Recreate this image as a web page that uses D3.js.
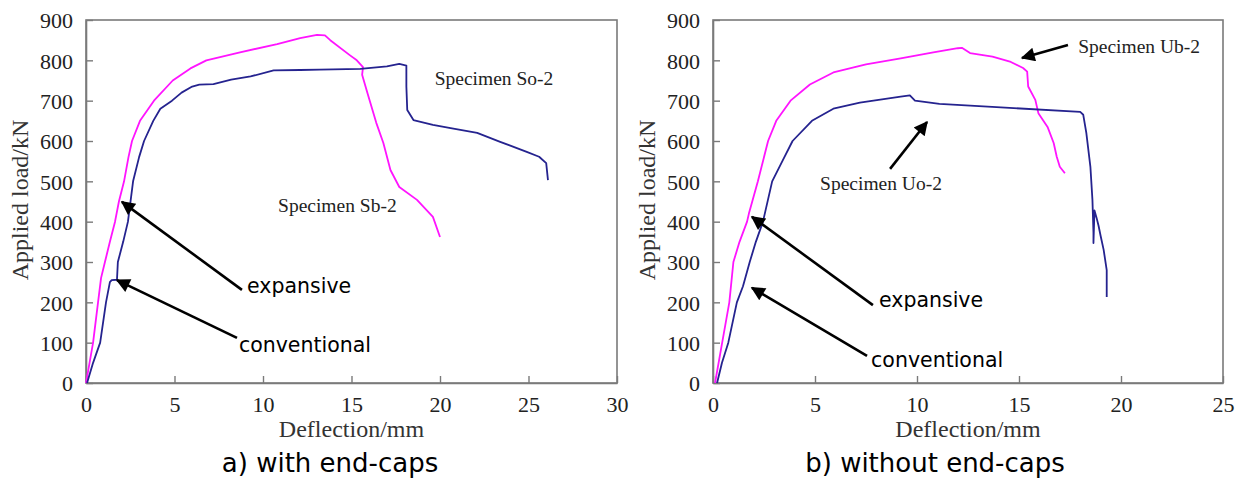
<!DOCTYPE html>
<html>
<head>
<meta charset="utf-8">
<script src="https://cdn.jsdelivr.net/npm/d3@7"></script>
<style>
  body { margin: 0; background: #fff; }
  .tick text { font-family: "Liberation Serif", serif; font-size: 22px; fill: #222; }
  .axis-title { font-family: "Liberation Serif", serif; font-size: 24px; fill: #333; }
  .spec { font-family: "Liberation Serif", serif; font-size: 19.5px; fill: #222; }
  .note { font-family: "DejaVu Sans", sans-serif; font-size: 20.5px; fill: #000; }
  .caption { font-family: "DejaVu Sans", sans-serif; font-size: 26px; fill: #000; }
</style>
</head>
<body>
<svg id="chart" width="1242" height="483"></svg>
<script>
// load (kN) vs deflection (mm)
const so2 = [[0.06,0],[0.4,50],[0.8,100],[1.13,200],[1.35,250],[1.45,255],[1.75,256],[1.8,300],[2.1,350],[2.37,400],[2.66,500],[3.0,560],[3.28,600],[3.8,650],[4.2,680],[4.86,700],[5.4,720],[6.0,735],[6.4,740],[7.2,741],[8.2,752],[9.3,760],[10.6,775],[12.1,776],[13.2,777],[15.5,779],[17.0,785],[17.7,791],[18.1,787],[18.1,735],[18.15,677],[18.5,652],[19.6,640],[20.6,632],[22.1,620],[23.4,598],[24.9,573],[25.6,561],[26.0,545],[26.1,503]]
const sb2 = [[0,0],[0.2,50],[0.4,100],[0.68,200],[0.85,260],[1.07,300],[1.35,350],[1.64,400],[1.86,450],[2.15,500],[2.4,560],[2.6,600],[3.05,650],[3.84,700],[4.9,750],[5.9,780],[6.8,800],[8.7,820],[10.8,840],[12.1,855],[13.05,863],[13.5,862],[13.8,850],[14.9,813],[15.3,800],[15.65,783],[15.6,764],[15.9,719],[16.4,645],[16.8,595],[17.2,528],[17.7,486],[18.7,454],[19.6,412],[20.0,362]]
const uo2 = [[0.2,0],[0.44,50],[0.75,100],[1.17,200],[1.47,240],[1.8,300],[2.1,350],[2.45,400],[2.9,500],[3.4,550],[3.9,600],[4.85,650],[5.9,680],[7.2,695],[9.2,710],[9.65,713],[9.9,700],[11.1,692],[13.9,684],[18.0,672],[18.15,665],[18.3,620],[18.5,536],[18.6,454],[18.65,372],[18.65,347],[18.7,428],[18.8,410],[18.9,390],[19.0,365],[19.15,330],[19.3,280],[19.3,213]]
const ub2 = [[0.1,0],[0.45,100],[0.8,200],[1.0,300],[1.3,350],[1.67,400],[1.76,420],[2.2,500],[2.7,600],[3.1,650],[3.8,700],[4.75,740],[5.9,770],[7.5,790],[9.2,805],[10.8,820],[12.0,830],[12.2,831],[12.6,818],[13.7,809],[14.6,796],[15.2,781],[15.4,772],[15.45,735],[15.8,702],[15.95,669],[16.4,635],[16.7,595],[16.85,561],[17.0,536],[17.25,520]]

const panelTitles = ['a) with end-caps', 'b) without end-caps']
const xMaxes = [30, 25]
const xTicksA = [0, 5, 10, 15, 20, 25, 30]
const xTicksB = [0, 5, 10, 15, 20, 25]
const yTicks = [0, 100, 200, 300, 400, 500, 600, 700, 800, 900]

// [text, x, y] in data units
const specLabelsA = [['Specimen So-2', 19.7, 739], ['Specimen Sb-2', 10.85, 424]]
const specLabelsB = [['Specimen Ub-2', 17.9, 818], ['Specimen Uo-2', 5.25, 479]]
const noteLabelsA = [['expansive', 9.1, 223], ['conventional', 8.64, 77]]
const noteLabelsB = [['expansive', 8.14, 188], ['conventional', 7.75, 40]]
// [x1, y1, x2(tip), y2(tip)]
const arrowsA = [[8.81, 231, 2.03, 449], [8.53, 112, 1.75, 255]]
const arrowsB = [[7.84, 193, 1.91, 412], [7.55, 67, 1.91, 236], [17.4, 838, 15.15, 806], [8.68, 531, 10.49, 647]]

const BLUE = '#25238f', PINK = '#ff14ff', FRAME = '#7a7a7a'

const svg = d3.select('#chart')
svg.append('defs').append('marker')
  .attr('id', 'head')
  .attr('viewBox', '0 0 10 10')
  .attr('refX', 9).attr('refY', 5)
  .attr('markerUnits', 'userSpaceOnUse')
  .attr('markerWidth', 16).attr('markerHeight', 14)
  .attr('orient', 'auto')
  .append('path').attr('d', 'M0,0 L10,5 L0,10 z').attr('fill', '#000')

const panels = [
  { left: 86, right: 617, xMax: xMaxes[0], ticks: xTicksA, series: [[sb2, PINK], [so2, BLUE]], specs: specLabelsA, notes: noteLabelsA, arrows: arrowsA, title: panelTitles[0], capX: 330 },
  { left: 713, right: 1223, xMax: xMaxes[1], ticks: xTicksB, series: [[ub2, PINK], [uo2, BLUE]], specs: specLabelsB, notes: noteLabelsB, arrows: arrowsB, title: panelTitles[1], capX: 935 }
]
const TOP = 20, BOTTOM = 383

panels.forEach(p => {
  const x = d3.scaleLinear().domain([0, p.xMax]).range([p.left, p.right])
  const y = d3.scaleLinear().domain([0, 900]).range([BOTTOM, TOP])
  const g = svg.append('g')

  g.append('rect')
    .attr('x', p.left).attr('y', TOP)
    .attr('width', p.right - p.left).attr('height', BOTTOM - TOP)
    .attr('fill', '#fff').attr('stroke', FRAME).attr('stroke-width', 1.6)

  const xAxis = g.append('g')
    .attr('transform', `translate(0,${BOTTOM})`)
    .call(d3.axisBottom(x).tickValues(p.ticks).tickSizeInner(-7).tickSizeOuter(0).tickPadding(13))
  const yAxis = g.append('g')
    .attr('transform', `translate(${p.left},0)`)
    .call(d3.axisLeft(y).tickValues(yTicks).tickSizeInner(-7).tickSizeOuter(0).tickPadding(13))
  ;[xAxis, yAxis].forEach(a => {
    a.select('.domain').attr('stroke', FRAME).attr('stroke-width', 1.6)
    a.selectAll('.tick line').attr('stroke', FRAME).attr('stroke-width', 1.4)
  })
  yAxis.selectAll('.tick text').attr('dy', '0.36em')

  const line = d3.line().x(d => x(d[0])).y(d => y(d[1]))
  p.series.forEach(([data, color]) => {
    g.append('path').datum(data)
      .attr('d', line)
      .attr('fill', 'none')
      .attr('stroke', color)
      .attr('stroke-width', 1.8)
      .attr('stroke-linejoin', 'round')
  })

  g.selectAll('.arrow').data(p.arrows).enter()
    .append('line').attr('class', 'arrow')
    .attr('x1', d => x(d[0])).attr('y1', d => y(d[1]))
    .attr('x2', d => x(d[2])).attr('y2', d => y(d[3]))
    .attr('stroke', '#000').attr('stroke-width', 2.6)
    .attr('marker-end', 'url(#head)')

  g.selectAll('.spec').data(p.specs).enter()
    .append('text').attr('class', 'spec')
    .attr('x', d => x(d[1])).attr('y', d => y(d[2]))
    .text(d => d[0])
  g.selectAll('.note').data(p.notes).enter()
    .append('text').attr('class', 'note')
    .attr('x', d => x(d[1])).attr('y', d => y(d[2]))
    .text(d => d[0])

  g.append('text').attr('class', 'axis-title')
    .attr('x', (p.left + p.right) / 2).attr('y', 437)
    .attr('text-anchor', 'middle')
    .text('Deflection/mm')
  g.append('text').attr('class', 'axis-title')
    .attr('transform', `translate(${p.left - 58},200) rotate(-90)`)
    .attr('text-anchor', 'middle')
    .text('Applied load/kN')
  g.append('text').attr('class', 'caption')
    .attr('x', p.capX).attr('y', 472)
    .attr('text-anchor', 'middle')
    .text(p.title)
})
</script>
</body>
</html>
